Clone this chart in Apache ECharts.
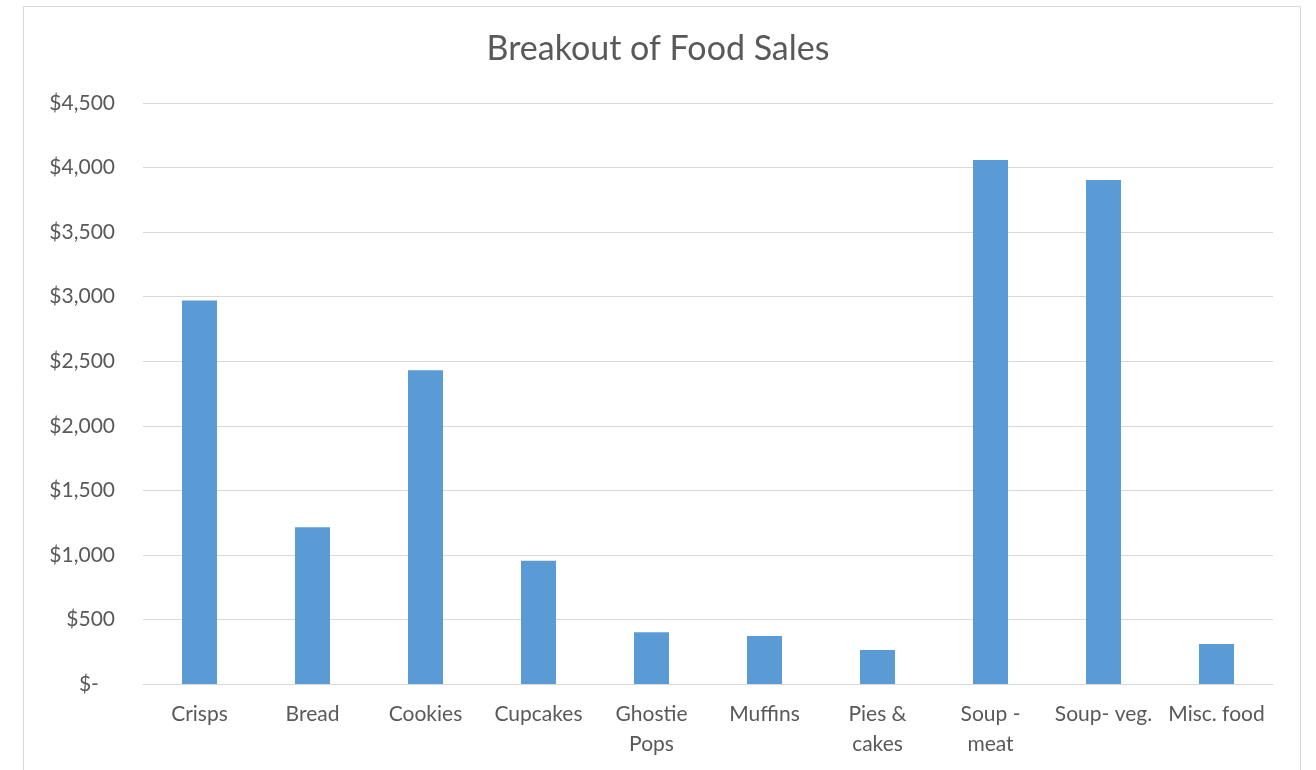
<!DOCTYPE html>
<html>
<head>
<meta charset="utf-8">
<script src="https://cdn.jsdelivr.net/npm/echarts@6/dist/echarts.min.js"></script>
<style>
  html, body { margin: 0; padding: 0; background: #fff; }
  #chart { width: 1316px; height: 770px; }
</style>
</head>
<body>
<div id="chart"></div>
<script>
const categories = ['Crisps', 'Bread', 'Cookies', 'Cupcakes', 'Ghostie Pops', 'Muffins', 'Pies & cakes', 'Soup - meat', 'Soup- veg.', 'Misc. food'];
const sales = [2970, 1215, 2430, 955, 400, 372, 263, 4058, 3904, 310];
const yTicks = [0, 500, 1000, 1500, 2000, 2500, 3000, 3500, 4000, 4500];
const wrapped = { 'Ghostie Pops': 'Ghostie\nPops', 'Pies & cakes': 'Pies &\ncakes', 'Soup - meat': 'Soup -\nmeat' };

const font = 'Lato, "Open Sans", sans-serif';
const chart = echarts.init(document.getElementById('chart'));
chart.setOption({
  animation: false,
  backgroundColor: '#ffffff',
  graphic: [{
    type: 'rect',
    shape: { x: 23.5, y: 6.5, width: 1277, height: 780 },
    style: { fill: 'none', stroke: '#d9d9d9', lineWidth: 1 },
    silent: true
  }],
  title: {
    text: 'Breakout of Food Sales',
    left: 'center',
    top: 27,
    textStyle: { fontFamily: font, fontSize: 34, fontWeight: 'normal', color: '#595959' }
  },
  grid: { left: 143, right: 43, top: 103, bottom: 86, containLabel: false },
  xAxis: {
    type: 'category',
    data: categories,
    axisLine: { show: true, lineStyle: { color: '#d9d9d9', width: 1 } },
    axisTick: { show: false },
    axisLabel: {
      interval: 0,
      margin: 15,
      color: '#595959',
      fontFamily: font,
      fontSize: 21,
      lineHeight: 30,
      formatter: v => wrapped[v] || v
    }
  },
  yAxis: {
    type: 'value',
    min: yTicks[0],
    max: yTicks[yTicks.length - 1],
    interval: 500,
    axisLine: { show: false },
    axisTick: { show: false },
    splitLine: { lineStyle: { color: '#d9d9d9', width: 1 } },
    axisLabel: {
      margin: 28,
      color: '#595959',
      fontFamily: font,
      fontSize: 21,
      formatter: v => v === 0 ? '$-   ' : '$' + v.toLocaleString('en-US')
    }
  },
  series: [{
    type: 'bar',
    data: sales,
    barWidth: '31%',
    itemStyle: { color: '#5b9bd5' }
  }]
});
</script>
</body>
</html>
